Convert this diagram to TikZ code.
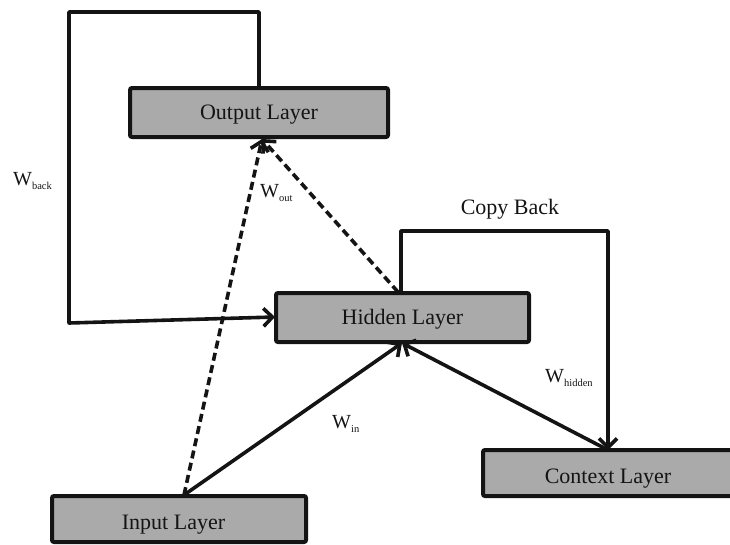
\documentclass[tikz,border=0pt]{standalone}
\usepackage{fontspec}
\setmainfont{Liberation Serif}
\usetikzlibrary{arrows.meta}
\definecolor{layerfill}{RGB}{170,170,170}
\definecolor{ink}{RGB}{20,20,20}
\tikzset{
  layer/.style={draw=ink, fill=layerfill, line width=4pt, rounded corners=2pt,
    inner sep=0pt, text=ink, font=\fontsize{22}{24}\selectfont},
  conn/.style={draw=ink, line width=3.6pt, line join=round},
  tip/.style={-{Straight Barb[length=9pt,width=18pt,line width=3.6pt]}},
  dashconn/.style={conn, dash pattern=on 8pt off 4.5pt},
  wlabel/.style={anchor=base west, inner sep=0pt, text=ink, font=\fontsize{20}{22}\selectfont},
}
\newcommand{\wsub}[1]{W\raisebox{-4pt}{\fontsize{10.5}{11}\selectfont #1}}
% text set with its baseline a given distance below the box centre
\newcommand{\lowtext}[2]{\raisebox{-#1}[0pt][0pt]{#2}}
\begin{document}
\begin{tikzpicture}[x=1pt,y=-1pt]
\useasboundingbox (0,0) rectangle (730,544);

% layers
\node[layer, minimum width=258pt, minimum height=49pt] (out) at (259,112.5) {\lowtext{7pt}{Output Layer}};
\node[layer, minimum width=253pt, minimum height=49pt] (hid) at (402.5,317.5) {\lowtext{7pt}{Hidden Layer}};
\node[layer, minimum width=250pt, minimum height=46pt] (ctx) at (608,473) {\lowtext{10pt}{Context Layer}};
\node[layer, minimum width=254pt, minimum height=46pt] (inp) at (179,519) {\hspace*{-11pt}\lowtext{10pt}{Input Layer}};

% attachment points
\coordinate (outTop) at (259,88);
\coordinate (outBot) at (262,139);
\coordinate (hidTop) at (401,293);
\coordinate (hidDash) at (398,292);
\coordinate (hidBot) at (402,343);
\coordinate (hidLeft) at (275,317);
\coordinate (ctxTop) at (608,450);
\coordinate (inpTop) at (184,495);
\coordinate (backTR) at (259,12);
\coordinate (backTL) at (69,12);
\coordinate (backBL) at (69,323);
\coordinate (copyTL) at (401,231);
\coordinate (copyTR) at (608,231);

% feedback from output to hidden
\draw[conn, tip] (outTop) -- (backTR) -- (backTL) -- (backBL) -- (hidLeft);
% copy back from hidden to context
\draw[conn, tip] (hidTop) -- (copyTL) -- (copyTR) -- (ctxTop);
% input and context into hidden
\draw[conn, tip] (inpTop) -- (hidBot);
\draw[conn, tip] (ctxTop) -- (hidBot);
% dashed connections into output
\draw[dashconn, tip] (inpTop) -- (outBot);
\draw[dashconn, tip] (hidDash) -- (outBot);

% labels
\node[wlabel] (lback) at (13,185) {\wsub{back}};
\node[wlabel] (lout) at (260,197) {\wsub{out}};
\node[wlabel] (lin) at (332,428) {\wsub{in}};
\node[wlabel] (lhid) at (545,382) {\wsub{hidden}};
\node[anchor=base, inner sep=0pt, text=ink, font=\fontsize{22}{24}\selectfont] (copy) at (510,214) {Copy Back};
\end{tikzpicture}
\end{document}
